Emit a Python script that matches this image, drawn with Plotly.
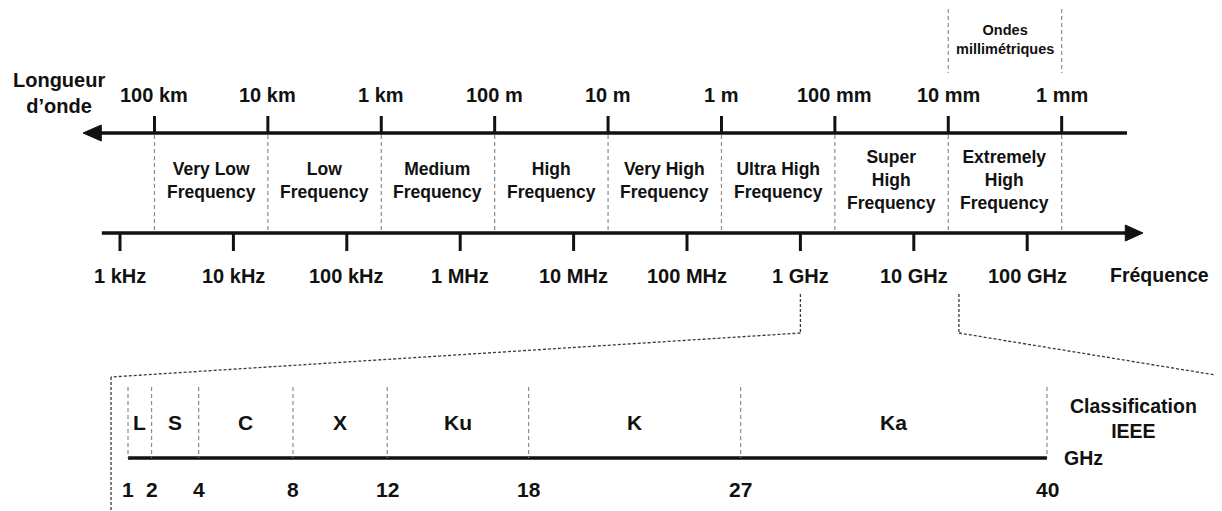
import plotly.graph_objects as go

# ---------------- data ----------------
freq_labels = ["1 kHz", "10 kHz", "100 kHz", "1 MHz", "10 MHz", "100 MHz", "1 GHz", "10 GHz", "100 GHz"]
freq_log = [3, 4, 5, 6, 7, 8, 9, 10, 11]          # log10(f / Hz)
wave_labels = ["100 km", "10 km", "1 km", "100 m", "10 m", "1 m", "100 mm", "10 mm", "1 mm"]
wave_shift = 0.304                                  # drawn offset of wavelength ticks (decades)
band_names = ["Very Low<br>Frequency", "Low<br>Frequency", "Medium<br>Frequency", "High<br>Frequency",
              "Very High<br>Frequency", "Ultra High<br>Frequency", "Super<br>High<br>Frequency",
              "Extremely<br>High<br>Frequency"]
ieee_bands = ["L", "S", "C", "X", "Ku", "K", "Ka"]
ieee_edges = [1, 2, 4, 8, 12, 18, 27, 40]           # GHz
zoom_from = [9, 10.398]                              # log10 Hz: 1 GHz .. 25 GHz

FONT = "Liberation Sans, Arial, sans-serif"
INK = "#111111"
GRAY = "#8c8c8c"
CONN = "#3a3a3a"

wave_pos = [f + wave_shift for f in freq_log]

fig = go.Figure()

def line(xs, ys, color=INK, width=3, dash="solid", xaxis="x"):
    fig.add_trace(go.Scatter(x=xs, y=ys, mode="lines", xaxis=xaxis, yaxis="y",
                             line=dict(color=color, width=width, dash=dash),
                             hoverinfo="skip", showlegend=False))

def tri(xs, ys):
    fig.add_trace(go.Scatter(x=xs, y=ys, mode="lines", fill="toself", fillcolor=INK,
                             line=dict(color=INK, width=1), hoverinfo="skip", showlegend=False))

def text(x, y, s, size, xref="x", color=INK):
    fig.add_annotation(x=x, y=y, xref=xref, yref="y", text="<b>%s</b>" % s, showarrow=False,
                       font=dict(family=FONT, size=size, color=color), align="center")

# --- wavelength axis (top) ---
Y_TOP = 133
line([2.80, 11.88], [Y_TOP, Y_TOP], width=3.5)
tri([2.674, 2.835, 2.835, 2.674], [Y_TOP, Y_TOP - 8, Y_TOP + 8, Y_TOP])
for p, lab in zip(wave_pos, wave_labels):
    line([p, p], [Y_TOP, 116], width=3)
    line([p, p], [Y_TOP + 2, 232], color=GRAY, width=1.2, dash="4px,3px")
    text(p, 95, lab, 20)
text(2.46, 93, "Longueur<br>d’onde", 20)

# --- band names ---
for i, name in enumerate(band_names):
    text((wave_pos[i] + wave_pos[i + 1]) / 2, 180, name, 17.5)

# --- millimetre waves ---
for p in wave_pos[-2:]:
    line([p, p], [9, 73], color=GRAY, width=1.2, dash="4px,3px")
text((wave_pos[-2] + wave_pos[-1]) / 2, 39, "Ondes<br>millimétriques", 14.5)

# --- frequency axis (bottom) ---
Y_BOT = 233
line([2.84, 11.90], [Y_BOT, Y_BOT], width=3.5)
tri([12.021, 11.865, 11.865, 12.021], [Y_BOT, Y_BOT - 8, Y_BOT + 8, Y_BOT])
for p, lab in zip(freq_log, freq_labels):
    line([p, p], [Y_BOT, 251], width=3)
    text(p, 276, lab, 20)
text(12.17, 275, "Fréquence", 19.5)

# --- zoom connector ---
line([zoom_from[0], zoom_from[0]], [294, 333], color=CONN, width=1.3, dash="3px,2px")
line([zoom_from[1], zoom_from[1]], [294, 333], color=CONN, width=1.3, dash="3px,2px")
line([zoom_from[0], 2.921], [333, 377], color=CONN, width=1.3, dash="3px,2px")
line([zoom_from[1], 12.66], [333, 375], color=CONN, width=1.3, dash="3px,2px")
line([2.921, 2.921], [377, 515], color=CONN, width=1.3, dash="3px,2px")
line([12.66, 12.66], [375, 515], color=CONN, width=1.3, dash="3px,2px")

# --- IEEE classification (linear GHz axis) ---
Y_I = 458
line([ieee_edges[0], ieee_edges[-1]], [Y_I, Y_I], width=3.5, xaxis="x2")
for e in ieee_edges:
    line([e, e], [387, Y_I], color=GRAY, width=1.2, dash="4px,3px", xaxis="x2")
    text(e, 489, str(e), 21, xref="x2")
for i, b in enumerate(ieee_bands):
    text((ieee_edges[i] + ieee_edges[i + 1]) / 2, 422, b, 21, xref="x2")
text(41.53, 458, "GHz", 19.5, xref="x2")
text(43.66, 418, "Classification<br>IEEE", 19.5, xref="x2")

# page body has an 8px margin: map screen pixels 8..1222 / 8..511 onto the figure
OFF = 8
slope = (1047 - 128) / 39.0
fig.update_layout(
    width=1222 - OFF, height=511 - OFF, margin=dict(l=0, r=0, t=0, b=0),
    paper_bgcolor="white", plot_bgcolor="white", showlegend=False,
    xaxis=dict(range=[3 + (OFF - 120) / 113.4, 3 + (1222 - 120) / 113.4], visible=False, fixedrange=True),
    xaxis2=dict(range=[1 + (OFF - 128) / slope, 1 + (1222 - 128) / slope], overlaying="x",
                visible=False, fixedrange=True),
    yaxis=dict(range=[511, OFF], visible=False, fixedrange=True),
)
fig.write_html("out.html")
